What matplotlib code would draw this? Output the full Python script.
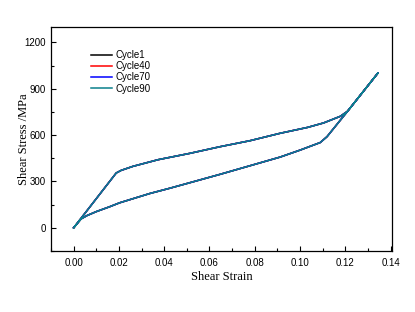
import matplotlib
matplotlib.use("Agg")
import matplotlib.pyplot as plt
from matplotlib.ticker import MultipleLocator

# loading branch (strain, MPa)
load_strain = [0.0, 0.0188, 0.021, 0.0262, 0.0373, 0.0513, 0.0646, 0.0779,
               0.0912, 0.1033, 0.1104, 0.1178, 0.1210, 0.1344]
load_stress = [0, 355, 372, 398, 441, 482, 525, 564,
               612, 650, 679, 722, 755, 1002]

# unloading branch
unload_strain = [0.1344, 0.1210, 0.1119, 0.1089, 0.1000, 0.0912, 0.0779, 0.0646,
                 0.0513, 0.0424, 0.0336, 0.0203, 0.0158, 0.010, 0.006, 0.0033, 0.0]
unload_stress = [1002, 755, 590, 552, 503, 458, 402, 346,
                 292, 256, 222, 162, 136, 105, 80, 58, 0]

cycles = ["Cycle1", "Cycle40", "Cycle70", "Cycle90"]
colors = ["black", "red", "blue", "#0a808c"]

plt.rcParams["font.family"] = ["Liberation Sans", "DejaVu Sans"]

fig = plt.figure(figsize=(4.15, 3.12), dpi=100)
ax = fig.add_axes([0.1229, 0.1955, 0.8211, 0.718])

# all cycles lie on the same loop
strain = load_strain + unload_strain[1:]
stress = load_stress + unload_stress[1:]
for lab, c in zip(cycles, colors):
    ax.plot(strain, stress, color=c, lw=1.1, label=lab)

ax.set_xlim(-0.01, 0.1405)
ax.set_ylim(-150, 1300)
ax.xaxis.set_major_locator(MultipleLocator(0.02))
ax.xaxis.set_minor_locator(MultipleLocator(0.01))
ax.yaxis.set_major_locator(MultipleLocator(300))
ax.yaxis.set_minor_locator(MultipleLocator(150))
ax.xaxis.set_major_formatter(plt.FuncFormatter(lambda v, p: f"{v:.2f}"))

ax.tick_params(which="both", direction="in", labelsize=7, width=0.8)
ax.tick_params(which="major", length=3.5)
ax.tick_params(which="minor", length=2)
ax.tick_params(axis="x", pad=5)
ax.tick_params(axis="y", pad=3.5)
for s in ax.spines.values():
    s.set_linewidth(0.9)

ax.set_xlabel("Shear Strain", family="Liberation Serif", fontsize=9)
ax.set_ylabel("Shear Stress /MPa", family="Liberation Serif", fontsize=9)
ax.xaxis.set_label_coords(0.5, -0.088)
ax.yaxis.set_label_coords(-0.062, 0.5)

ax.legend(loc="upper left", bbox_to_anchor=(0.117, 0.897), frameon=False,
          fontsize=7, handlelength=2.2, handletextpad=0.35, borderpad=0,
          borderaxespad=0, labelspacing=0.12)

fig.savefig("out.png", dpi=100)
